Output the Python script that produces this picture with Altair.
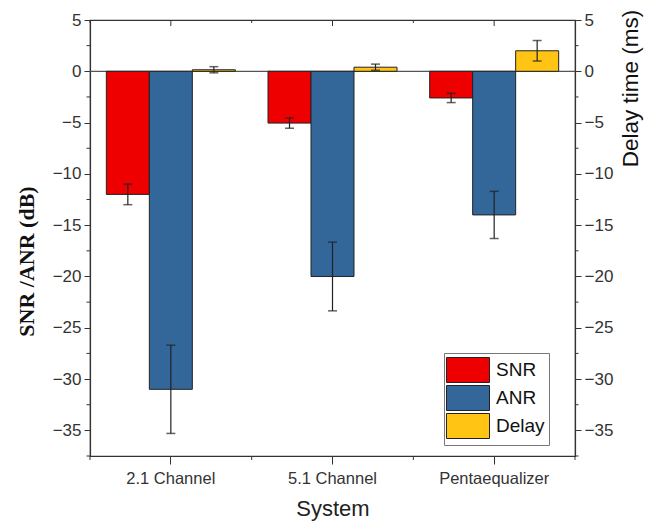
import altair as alt
import pandas as pd

systems = ["2.1 Channel", "5.1 Channel", "Pentaequalizer"]
series = ["SNR", "ANR", "Delay"]
snr = [-12.0, -5.05, -2.6]
snr_err = [1.0, 0.5, 0.45]
anr = [-31.0, -20.0, -14.0]
anr_err = [4.3, 3.35, 2.3]
delay = [0.15, 0.4, 2.0]
delay_err = [0.3, 0.3, 1.0]
colors = ["#ee0000", "#336699", "#ffc414"]
y_domain = [-37.5, 5]
major_ticks = [5, 0, -5, -10, -15, -20, -25, -30, -35]
minor_ticks = [2.5, -2.5, -7.5, -12.5, -17.5, -22.5, -27.5, -32.5, -37.5]

rows = []
for i, s in enumerate(systems):
    for name, vals, errs in (("SNR", snr, snr_err), ("ANR", anr, anr_err), ("Delay", delay, delay_err)):
        rows.append(dict(system=s, series=name, value=vals[i],
                         lo=vals[i] - errs[i], hi=vals[i] + errs[i]))
df = pd.DataFrame(rows)
minor_df = pd.DataFrame({"t": minor_ticks})
zero_df = pd.DataFrame({"z": [0]})
sys_df = pd.DataFrame({"system": systems})

W, H = 485, 436
FONT = "Liberation Sans"
AX = "#333333"

def yscale():
    return alt.Scale(domain=y_domain, nice=False, zero=False)

xenc = alt.X("system:N", sort=systems,
             scale=alt.Scale(paddingInner=0, paddingOuter=0),
             axis=alt.Axis(title="System", labelAngle=0, tickSize=8, labelPadding=6,
                           labelFontSize=16.5, titleFontSize=22, titleFont=FONT, labelFont=FONT,
                           titleFontWeight="normal", titleBaseline="alphabetic",
                           titleY=59, titleX=W / 2, titleAlign="center",
                           domainColor=AX, tickColor=AX, labelColor=AX,
                           titleColor="#222"))
xoff = alt.XOffset("series:N", sort=series,
                   scale=alt.Scale(paddingInner=0, paddingOuter=0.38))

base = alt.Chart(df).encode(x=xenc, xOffset=xoff)

bars = base.mark_bar(stroke="#222", strokeWidth=1).encode(
    y=alt.Y("value:Q", scale=yscale(),
            axis=alt.Axis(orient="left", values=major_ticks, title="SNR /ANR (dB)",
                          titleFont="Liberation Serif", titleFontWeight="bold", titleFontSize=22,
                          titleAngle=270, titleX=-64, titleY=241, titleAlign="center",
                          titleBaseline="middle", titleColor="#111",
                          labelFont=FONT, labelFontSize=17, labelColor=AX, tickSize=6,
                          labelPadding=3, domainColor=AX, tickColor=AX, grid=False)),
    color=alt.Color("series:N", sort=series,
                    scale=alt.Scale(domain=series, range=colors),
                    legend=alt.Legend(title=None, orient="none", legendX=354, legendY=333,
                                      symbolType="M-1.72,-1H1.72V1H-1.72Z", symbolSize=625,
                                      symbolStrokeColor="#222", symbolStrokeWidth=1,
                                      symbolOffset=7,
                                      labelFont=FONT, labelFontSize=19, labelColor="#111",
                                      rowPadding=-2.5, padding=4, labelOffset=15,
                                      strokeColor="#777", fillColor="white",
                                      symbolOpacity=1)),
)

err_rule = base.mark_rule(color="#222", strokeWidth=1.2).encode(
    y=alt.Y("lo:Q", scale=yscale(), axis=None), y2="hi:Q")
cap_lo = base.mark_tick(color="#222", size=9, thickness=1.5).encode(
    y=alt.Y("lo:Q", scale=yscale(), axis=None))
cap_hi = base.mark_tick(color="#222", size=9, thickness=1.5).encode(
    y=alt.Y("hi:Q", scale=yscale(), axis=None))

zero_line = alt.Chart(zero_df).mark_rule(color="#555", strokeWidth=1.2).encode(
    y=alt.Y("z:Q", scale=yscale(),
            axis=alt.Axis(orient="right", values=major_ticks, title="Delay time (ms)",
                          titleFont=FONT, titleFontWeight="normal", titleFontSize=22.5,
                          titleAngle=270, titleX=55, titleY=68, titleAlign="center",
                          titleBaseline="middle", titleColor="#111",
                          labelFont=FONT, labelFontSize=17, labelColor=AX, tickSize=6,
                          labelPadding=3, domainColor=AX, tickColor=AX, grid=False)))

minor_left = alt.Chart(minor_df).mark_rule(color=AX).encode(
    y=alt.Y("t:Q", scale=yscale(), axis=None), x=alt.value(-3.5), x2=alt.value(0))
minor_right = alt.Chart(minor_df).mark_rule(color=AX).encode(
    y=alt.Y("t:Q", scale=yscale(), axis=None), x=alt.value(W), x2=alt.value(W + 3.5))

sx_b = alt.X("system:N", sort=systems, bandPosition=0,
             scale=alt.Scale(paddingInner=0, paddingOuter=0))
sx_c = alt.X("system:N", sort=systems, bandPosition=0.5,
             scale=alt.Scale(paddingInner=0, paddingOuter=0))
bottom_minor = alt.Chart(sys_df).mark_rule(color=AX).encode(
    x=sx_b, y=alt.value(H), y2=alt.value(H + 4))
top_minor = alt.Chart(sys_df).mark_rule(color=AX).encode(
    x=sx_b, y=alt.value(0), y2=alt.value(3))
top_major = alt.Chart(sys_df).mark_rule(color=AX).encode(
    x=sx_c, y=alt.value(0), y2=alt.value(6))
end_tick = alt.Chart(zero_df).mark_rule(color=AX).encode(
    x=alt.value(W), y=alt.value(H), y2=alt.value(H + 4))

chart = alt.layer(
    zero_line, bars, err_rule, cap_lo, cap_hi,
    minor_left, minor_right, bottom_minor, top_minor, top_major, end_tick
).resolve_scale(y="independent").properties(
    width=W, height=H,
    autosize=alt.AutoSizeParams(type="none"),
    padding={"left": 82, "top": 12, "right": 70, "bottom": 66},
).configure_view(stroke=AX, strokeWidth=1.2).configure_axis(domainWidth=1.2)

chart.save("out.html", embed_options={"renderer": "svg", "actions": False})
